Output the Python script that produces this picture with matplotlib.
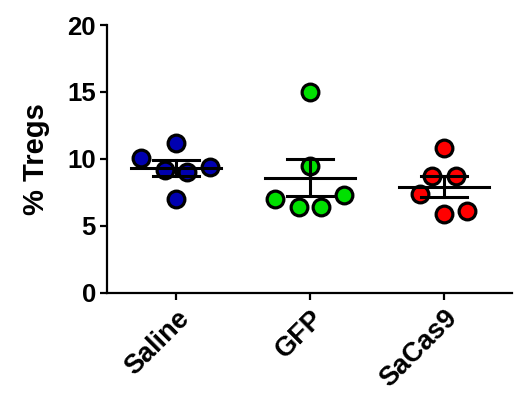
import matplotlib.pyplot as plt
import numpy as np

plt.rcParams['font.family'] = ['Liberation Sans', 'DejaVu Sans']
plt.rcParams['font.weight'] = 'bold'

groups = ['Saline', 'GFP', 'SaCas9']
saline = [10.1, 11.2, 9.2, 9.0, 9.4, 7.0]
gfp = [15.0, 9.5, 7.0, 6.4, 6.4, 7.3]
sacas9 = [10.8, 8.7, 8.7, 7.4, 5.9, 6.1]
values = [saline, gfp, sacas9]
# horizontal scatter offsets of the dots within each group
offsets = [
    [-0.26, 0.0, -0.08, 0.08, 0.25, 0.0],
    [0.0, 0.0, -0.26, -0.08, 0.08, 0.25],
    [0.0, -0.09, 0.09, -0.18, 0.0, 0.17],
]
colors = ['#0000b0', '#00e000', '#ff0000']

fig = plt.figure(figsize=(5.14, 3.99), dpi=100)
ax = fig.add_axes([0.2082, 0.2664, 0.7873, 0.6709])

for i, (vals, offs, col) in enumerate(zip(values, offsets, colors)):
    vals = np.array(vals)
    xs = i + np.array(offs)
    ax.scatter(xs, vals, s=145, facecolor=col, edgecolor='black', linewidth=2.3, zorder=2)

    mean = vals.mean()
    sem = vals.std(ddof=1) / np.sqrt(len(vals))
    # mean line
    ax.plot([i - 0.335, i + 0.335], [mean, mean], color='black', lw=2.2, zorder=3)
    # sem bar with caps
    ax.plot([i, i], [mean - sem, mean + sem], color='black', lw=2.2, zorder=3)
    for yv in (mean - sem, mean + sem):
        ax.plot([i - 0.17, i + 0.17], [yv, yv], color='black', lw=2.2, zorder=3)

ax.set_xlim(-0.515, 2.505)
ax.set_ylim(0, 20)
ax.set_yticks([0, 5, 10, 15, 20])
ax.set_xticks(range(len(groups)))
ax.set_xticklabels(groups, rotation=45, ha='right', rotation_mode='anchor')

ax.spines['top'].set_visible(False)
ax.spines['right'].set_visible(False)
ax.spines['left'].set_linewidth(1.6)
ax.spines['bottom'].set_linewidth(1.6)
ax.tick_params(axis='y', width=1.6, length=5, labelsize=18.5, pad=3)
ax.tick_params(axis='x', width=1.6, length=5, labelsize=19.5, pad=4)
ax.set_ylabel('% Tregs', fontsize=21, fontweight='bold', labelpad=12)

fig.savefig('out.png', dpi=100)
